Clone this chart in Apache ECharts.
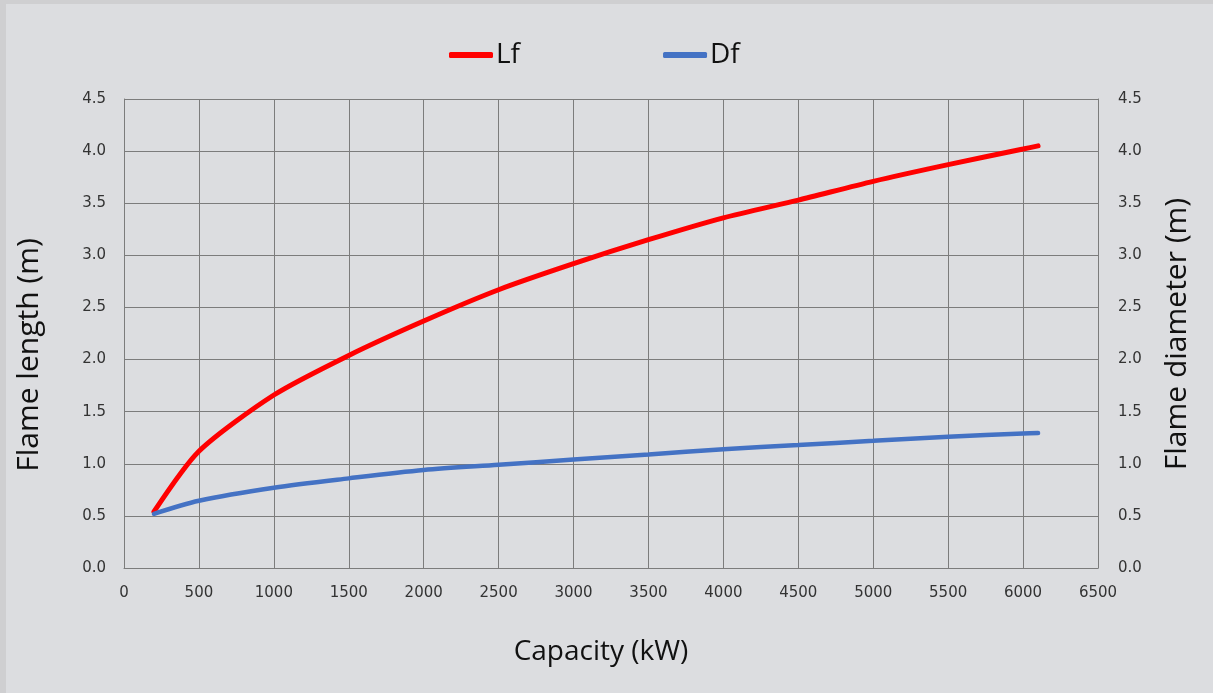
<!DOCTYPE html>
<html>
<head>
<meta charset="utf-8">
<script src="https://cdn.jsdelivr.net/npm/echarts@6/dist/echarts.min.js"></script>
<style>
  html, body { margin: 0; padding: 0; background: #cfcfd1; }
  #chart { position: absolute; left: 6px; top: 4px; width: 1207px; height: 689px; background: #dcdde0; }
</style>
</head>
<body>
<div id="chart"></div>
<script>
const capacity = [200, 500, 1000, 1500, 2000, 2500, 3000, 3500, 4000, 4500, 5000, 5500, 6000, 6100];
const flameLength = [0.54, 1.12, 1.66, 2.04, 2.37, 2.67, 2.92, 3.15, 3.36, 3.53, 3.71, 3.87, 4.02, 4.05];
const flameDiameter = [0.52, 0.645, 0.77, 0.86, 0.94, 0.99, 1.04, 1.09, 1.14, 1.18, 1.22, 1.26, 1.29, 1.295];
const seriesNames = ['Lf', 'Df'];
const xTitle = 'Capacity (kW)';
const yLeftTitle = 'Flame length (m)';
const yRightTitle = 'Flame diameter (m)';

const gridColor = '#7c7c7c';
const tickFont = { fontFamily: 'DejaVu Sans', fontSize: 15, color: '#333333' };
const titleFont = 'Open Sans';

const chart = echarts.init(document.getElementById('chart'));
const yAxisBase = {
  type: 'value', min: 0, max: 4.5, interval: 0.5,
  axisTick: { show: false },
  axisLabel: Object.assign({ formatter: v => v.toFixed(1) }, tickFont)
};
chart.setOption({
  backgroundColor: '#dcdde0',
  animation: false,
  grid: { left: 118, right: 115, top: 95, bottom: 125, containLabel: false },
  legend: {
    left: 443, top: 37, padding: 0,
    itemWidth: 44, itemHeight: 6, itemGap: 143,
    textStyle: { fontFamily: titleFont, fontSize: 28, color: '#111', padding: [0, 0, 0, -2] },
    data: [
      { name: seriesNames[0], icon: 'roundRect' },
      { name: seriesNames[1], icon: 'roundRect' }
    ]
  },
  xAxis: {
    type: 'value', min: 0, max: 6500, interval: 500,
    axisLine: { show: true, lineStyle: { color: gridColor, width: 1 } },
    axisTick: { show: false },
    splitLine: { show: true, lineStyle: { color: gridColor, width: 1 } },
    axisLabel: Object.assign({ margin: 18, formatter: v => String(v) }, tickFont)
  },
  yAxis: [
    Object.assign({}, yAxisBase, {
      position: 'left',
      axisLine: { show: true, lineStyle: { color: gridColor, width: 1 } },
      splitLine: { show: true, lineStyle: { color: gridColor, width: 1 } },
      axisLabel: Object.assign({}, yAxisBase.axisLabel, { margin: 18 })
    }),
    Object.assign({}, yAxisBase, {
      position: 'right',
      axisLine: { show: true, lineStyle: { color: gridColor, width: 1 } },
      splitLine: { show: false },
      axisLabel: Object.assign({}, yAxisBase.axisLabel, { margin: 20 })
    })
  ],
  series: [
    {
      name: seriesNames[0], type: 'line', yAxisIndex: 0,
      data: capacity.map((c, i) => [c, flameLength[i]]),
      showSymbol: false, symbol: 'none', smooth: 0.25,
      lineStyle: { color: '#ff0000', width: 5, cap: 'round' },
      itemStyle: { color: '#ff0000' }
    },
    {
      name: seriesNames[1], type: 'line', yAxisIndex: 1,
      data: capacity.map((c, i) => [c, flameDiameter[i]]),
      showSymbol: false, symbol: 'none', smooth: 0.3,
      lineStyle: { color: '#4472c4', width: 4.5, cap: 'round' },
      itemStyle: { color: '#4472c4' }
    }
  ],
  graphic: [
    { type: 'text', x: 595, y: 648, style: { text: xTitle, font: '28px "Open Sans"', fill: '#111', textAlign: 'center', textVerticalAlign: 'middle' } },
    { type: 'text', x: 23, y: 351, rotation: Math.PI / 2, style: { text: yLeftTitle, font: '30px "Open Sans"', fill: '#111', textAlign: 'center', textVerticalAlign: 'middle' } },
    { type: 'text', x: 1171, y: 330, rotation: Math.PI / 2, style: { text: yRightTitle, font: '30px "Open Sans"', fill: '#111', textAlign: 'center', textVerticalAlign: 'middle' } }
  ]
});
</script>
</body>
</html>
